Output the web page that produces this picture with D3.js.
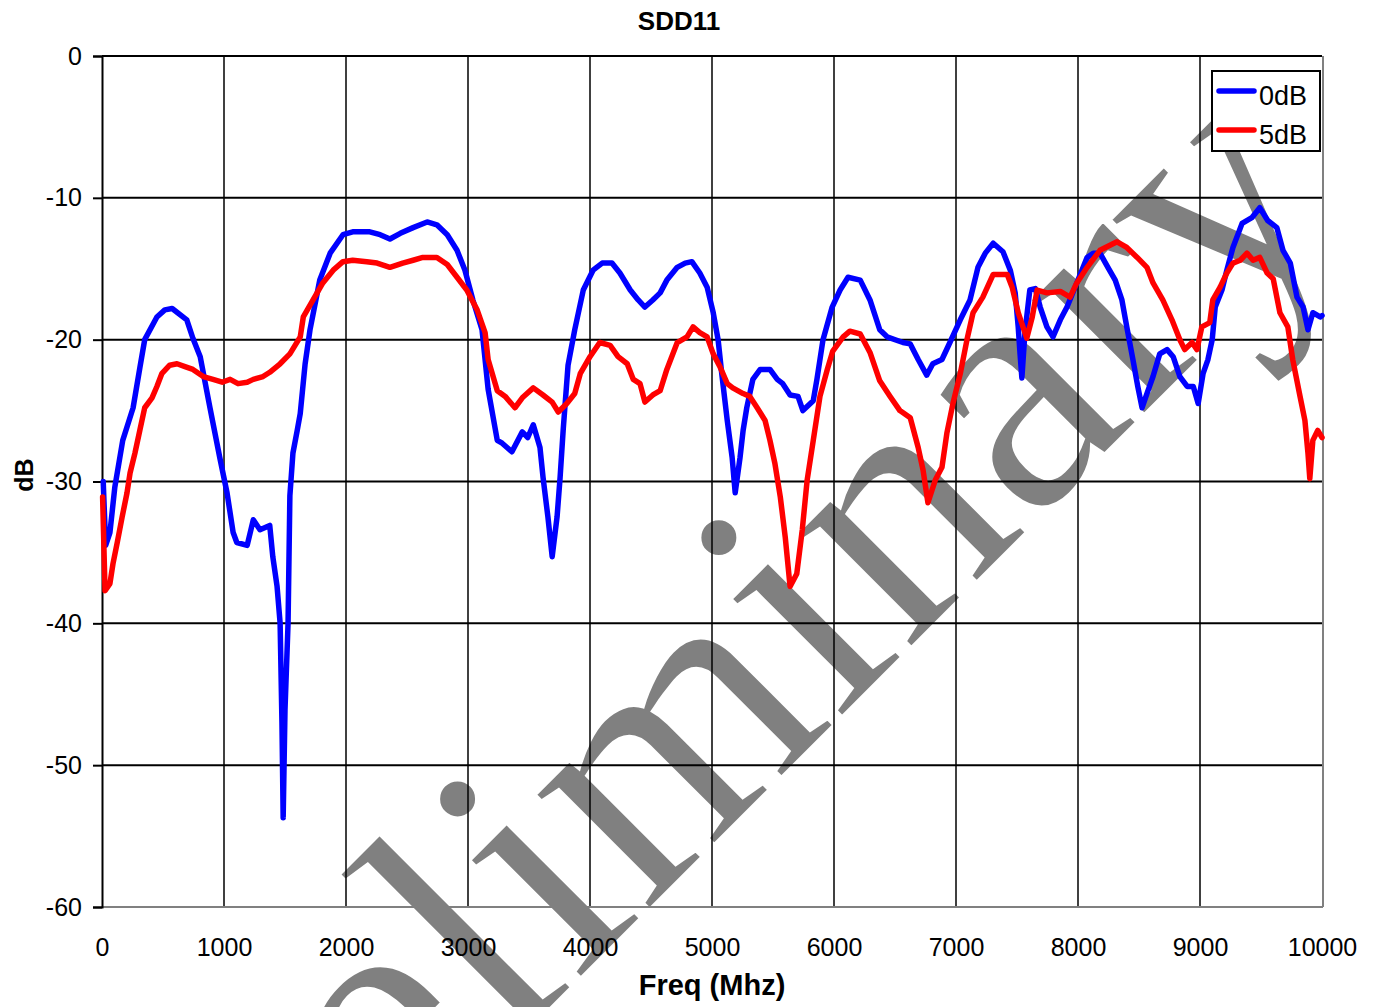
<!DOCTYPE html>
<html>
<head>
<meta charset="utf-8">
<script src="https://cdn.jsdelivr.net/npm/d3@7"></script>
<style>
  html, body { margin: 0; padding: 0; background: #ffffff; }
  svg { display: block; }
</style>
</head>
<body>
<svg id="chart" width="1377" height="1007"></svg>
<script>
// SDD11 return loss, 0 dB setting: frequency (MHz) and level (dB)
const freq0dB = [10,30,65,105,170,255,310,350,450,515,575,695,745,805,885,965,1025,1075,1105,1190,1240,1295,1375,1400,1435,1460,1475,1485,1500,1525,1540,1565,1600,1625,1665,1705,1785,1870,1975,2055,2195,2280,2360,2445,2550,2665,2745,2830,2910,2975,3040,3115,3165,3240,3280,3360,3445,3490,3535,3590,3615,3655,3690,3730,3755,3780,3820,3875,3945,4025,4100,4180,4245,4330,4395,4450,4515,4575,4630,4715,4780,4835,4900,4960,5010,5050,5080,5125,5165,5190,5230,5255,5285,5335,5395,5475,5535,5580,5640,5705,5745,5830,5860,5910,5985,6050,6115,6215,6295,6375,6435,6565,6625,6690,6760,6810,6885,6950,7035,7115,7180,7240,7305,7385,7445,7485,7510,7525,7540,7565,7605,7650,7690,7745,7795,7855,7910,7990,8075,8125,8180,8245,8305,8360,8400,8450,8490,8525,8565,8615,8670,8730,8780,8835,8895,8945,8985,9025,9065,9100,9125,9180,9220,9270,9345,9425,9490,9555,9630,9680,9740,9795,9845,9885,9925,9985,10000];
const sdd11_0dB = [-30.0,-34.5,-33.6,-30.4,-27.1,-24.8,-22.0,-20.0,-18.4,-17.9,-17.8,-18.6,-19.9,-21.2,-24.8,-28.3,-30.8,-33.6,-34.3,-34.5,-32.7,-33.4,-33.1,-35.3,-37.4,-40.0,-47.0,-53.7,-46.1,-40.0,-31.0,-28.0,-26.4,-25.2,-21.7,-19.3,-15.8,-13.9,-12.6,-12.4,-12.4,-12.6,-12.9,-12.5,-12.1,-11.7,-11.9,-12.6,-13.7,-15.1,-17.2,-19.3,-23.5,-27.1,-27.3,-27.9,-26.5,-26.9,-26.0,-27.6,-29.7,-32.5,-35.3,-32.5,-29.7,-26.4,-21.8,-19.3,-16.5,-15.1,-14.6,-14.6,-15.3,-16.5,-17.2,-17.7,-17.2,-16.7,-15.8,-14.9,-14.6,-14.5,-15.3,-16.3,-18.1,-20.0,-22.4,-25.7,-28.3,-30.8,-28.3,-26.4,-24.8,-22.8,-22.1,-22.1,-22.8,-23.1,-23.9,-24.0,-25.0,-24.3,-22.8,-20.0,-17.7,-16.5,-15.6,-15.8,-17.2,-19.3,-19.8,-20.2,-20.3,-21.4,-22.5,-21.7,-21.4,-20.2,-18.6,-17.2,-14.9,-13.9,-13.2,-13.8,-15.1,-16.7,-19.1,-21.0,-22.7,-19.5,-16.5,-16.4,-17.7,-19.1,-19.8,-18.6,-17.7,-16.0,-14.2,-13.9,-13.9,-14.9,-15.8,-17.2,-19.1,-21.4,-23.3,-24.8,-23.8,-22.6,-21.0,-20.7,-21.2,-22.6,-23.3,-23.3,-24.5,-22.4,-21.4,-20.0,-17.7,-16.5,-15.1,-13.5,-11.8,-11.4,-10.7,-11.6,-12.1,-13.7,-14.6,-17.0,-17.7,-19.3,-18.1,-18.4,-18.3];

// SDD11 return loss, 5 dB setting
const freq5dB = [5,25,65,90,125,165,205,230,270,310,350,410,450,490,555,615,680,745,830,910,985,1050,1115,1190,1240,1320,1375,1460,1540,1625,1650,1730,1810,1895,1975,2055,2170,2255,2360,2465,2550,2630,2745,2830,2910,2990,3075,3140,3165,3240,3305,3385,3445,3535,3615,3690,3740,3810,3875,3920,4000,4080,4165,4230,4305,4355,4410,4450,4515,4575,4630,4715,4795,4845,4900,4960,5010,5065,5125,5170,5255,5310,5370,5435,5475,5515,5560,5600,5640,5695,5740,5780,5830,5885,5945,5990,6075,6130,6215,6295,6375,6460,6540,6625,6690,6730,6770,6830,6885,6925,6975,7035,7090,7140,7220,7305,7420,7460,7510,7580,7625,7665,7745,7855,7935,7990,8075,8180,8320,8400,8485,8565,8615,8695,8770,8835,8875,8935,8975,9015,9080,9105,9165,9220,9270,9330,9385,9435,9490,9550,9600,9655,9720,9760,9820,9860,9885,9900,9925,9965,10000];
const sdd11_5dB = [-31.1,-37.7,-37.2,-35.8,-34.3,-32.5,-30.8,-29.4,-28.0,-26.4,-24.8,-24.1,-23.3,-22.4,-21.8,-21.7,-21.9,-22.1,-22.6,-22.8,-23.0,-22.8,-23.1,-23.0,-22.8,-22.6,-22.3,-21.7,-21.0,-19.8,-18.4,-17.2,-16.0,-15.1,-14.5,-14.4,-14.5,-14.6,-14.9,-14.6,-14.4,-14.2,-14.2,-14.7,-15.6,-16.5,-17.9,-19.5,-21.4,-23.6,-24.0,-24.8,-24.1,-23.4,-23.9,-24.4,-25.1,-24.5,-23.8,-22.4,-21.2,-20.2,-20.4,-21.2,-21.7,-22.8,-23.1,-24.4,-23.9,-23.6,-22.1,-20.2,-19.8,-19.1,-19.5,-19.8,-21.0,-21.9,-23.1,-23.4,-23.8,-24.0,-24.8,-25.7,-27.1,-28.7,-31.1,-33.9,-37.4,-36.5,-33.4,-29.9,-27.1,-24.0,-22.1,-20.8,-19.8,-19.4,-19.6,-20.9,-22.9,-24.0,-25.0,-25.5,-27.6,-29.2,-31.5,-29.9,-29.0,-26.6,-24.5,-22.4,-20.0,-18.1,-17.0,-15.4,-15.4,-16.3,-18.1,-19.9,-18.4,-16.5,-16.7,-16.6,-17.0,-16.0,-14.9,-13.7,-13.1,-13.5,-14.2,-14.9,-16.0,-17.2,-18.6,-20.0,-20.7,-20.2,-20.7,-19.1,-18.8,-17.2,-16.3,-15.3,-14.6,-14.4,-13.9,-14.4,-14.2,-15.3,-15.7,-18.1,-19.1,-21.4,-24.0,-25.7,-28.0,-29.8,-27.1,-26.4,-26.9];

const seriesNames = ["0dB", "5dB"];
const xTicks = [0,1000,2000,3000,4000,5000,6000,7000,8000,9000,10000];
const yTicks = [0,-10,-20,-30,-40,-50,-60];

const colors = { "0dB": "#0000ff", "5dB": "#ff0000" };
const series = [
  { name: seriesNames[0], pts: d3.zip(freq0dB, sdd11_0dB) },
  { name: seriesNames[1], pts: d3.zip(freq5dB, sdd11_5dB) }
];

const svg = d3.select("#chart");
const plotL = 102, plotR = 1322, plotT = 56, plotB = 907;

const x = d3.scaleLinear().domain([0, 10000]).range([plotL, plotR]);
const y = d3.scaleLinear().domain([-60, 0]).range([plotB, plotT]);

// plain ASCII hyphen for negative tick labels
const plainFormat = d => String(d);

// Draft stamp behind the chart
svg.append("text")
  .attr("transform", "translate(177,1381) rotate(-45)")
  .attr("font-family", "'Liberation Serif', 'Times New Roman', serif")
  .attr("font-size", 350)
  .attr("fill", "#808080")
  .attr("stroke", "#ffffff")
  .attr("stroke-width", 2)
  .text("Preliminary");

// Grid
const grid = svg.append("g");
grid.selectAll("line.h").data(yTicks).join("line")
  .attr("class", "h")
  .attr("x1", plotL).attr("x2", plotR)
  .attr("y1", d => y(d)).attr("y2", d => y(d))
  .attr("stroke", "#000").attr("stroke-width", 2);
grid.selectAll("line.v").data(xTicks.slice(1, -1)).join("line")
  .attr("class", "v")
  .attr("x1", d => x(d)).attr("x2", d => x(d))
  .attr("y1", plotT).attr("y2", plotB)
  .attr("stroke", "#000").attr("stroke-width", 1.5);

// Plot frame (bottom and right edges)
svg.append("line").attr("x1", plotL).attr("x2", plotR + 1).attr("y1", plotB).attr("y2", plotB)
  .attr("stroke", "#808080").attr("stroke-width", 2);
svg.append("line").attr("x1", plotR + 1).attr("x2", plotR + 1).attr("y1", plotT).attr("y2", plotB)
  .attr("stroke", "#808080").attr("stroke-width", 2);

// Y axis
const yAxis = svg.append("g")
  .attr("transform", `translate(${plotL},0)`)
  .call(d3.axisLeft(y).tickValues(yTicks).tickSize(9).tickPadding(11).tickFormat(plainFormat));
yAxis.select(".domain").attr("stroke", "#000").attr("stroke-width", 2);
yAxis.selectAll(".tick line").attr("stroke", "#000").attr("stroke-width", 2);
yAxis.selectAll("text")
  .attr("font-family", "Arial, 'Liberation Sans', sans-serif")
  .attr("font-size", 25).attr("fill", "#000");

// X axis
const xAxis = svg.append("g")
  .attr("transform", `translate(0,${plotB})`)
  .call(d3.axisBottom(x).tickValues(xTicks).tickSize(0).tickPadding(31).tickFormat(plainFormat));
xAxis.select(".domain").remove();
xAxis.selectAll("text")
  .attr("font-family", "Arial, 'Liberation Sans', sans-serif")
  .attr("font-size", 25).attr("fill", "#000");

// Traces
const line = d3.line().x(d => x(d[0])).y(d => y(d[1]));
svg.append("g").selectAll("path").data(series).join("path")
  .attr("d", d => line(d.pts))
  .attr("fill", "none")
  .attr("stroke", d => colors[d.name])
  .attr("stroke-width", 5.5)
  .attr("stroke-linejoin", "round")
  .attr("stroke-linecap", "round");

// Titles
svg.append("text")
  .attr("x", 679).attr("y", 30)
  .attr("text-anchor", "middle")
  .attr("font-family", "Arial, 'Liberation Sans', sans-serif")
  .attr("font-weight", "bold").attr("font-size", 26)
  .text("SDD11");

svg.append("text")
  .attr("x", 712).attr("y", 995)
  .attr("text-anchor", "middle")
  .attr("font-family", "Arial, 'Liberation Sans', sans-serif")
  .attr("font-weight", "bold").attr("font-size", 29)
  .text("Freq (Mhz)");

svg.append("text")
  .attr("transform", "translate(33,475) rotate(-90)")
  .attr("text-anchor", "middle")
  .attr("font-family", "Arial, 'Liberation Sans', sans-serif")
  .attr("font-weight", "bold").attr("font-size", 25)
  .text("dB");

// Legend
const legend = svg.append("g").attr("transform", "translate(1212,71)");
legend.append("rect")
  .attr("width", 108).attr("height", 80)
  .attr("fill", "#fff").attr("stroke", "#000").attr("stroke-width", 2);
const items = legend.selectAll("g.item").data(seriesNames).join("g")
  .attr("class", "item")
  .attr("transform", (d, i) => `translate(0,${20 + i * 39})`);
items.append("line")
  .attr("x1", 7).attr("x2", 42).attr("y1", 0).attr("y2", 0)
  .attr("stroke", d => colors[d]).attr("stroke-width", 5.5).attr("stroke-linecap", "round");
items.append("text")
  .attr("x", 47).attr("y", 14)
  .attr("font-family", "Arial, 'Liberation Sans', sans-serif")
  .attr("font-size", 27)
  .text(d => d);
</script>
</body>
</html>
